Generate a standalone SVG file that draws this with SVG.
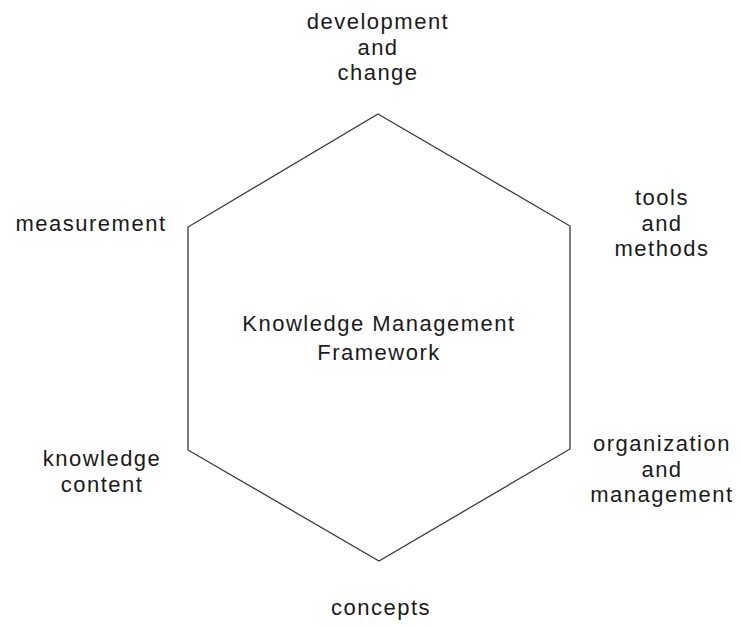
<svg xmlns="http://www.w3.org/2000/svg" width="741" height="627" viewBox="0 0 741 627">
<style>
text{font-family:"Liberation Sans",Arial,sans-serif;font-size:22px;letter-spacing:1.5px;fill:#1a1a1a;text-anchor:middle}
.hex{fill:none;stroke:#3a3a3a;stroke-width:1.3}
</style>
<rect width="741" height="627" fill="#ffffff"/>
<g id="framework">
<polygon class="hex" points="378,114 570,226 570,449 379,561 188,450 188,227"/>
<text x="379" y="331">Knowledge Management</text>
<text x="379" y="360">Framework</text>
</g>
<g id="development">
<text x="378" y="29">development</text>
<text x="378" y="55">and</text>
<text x="378" y="80">change</text>
</g>
<g id="tools">
<text x="662" y="205">tools</text>
<text x="662" y="231">and</text>
<text x="662" y="256">methods</text>
</g>
<g id="organization">
<text x="662" y="451">organization</text>
<text x="662" y="477">and</text>
<text x="662" y="502">management</text>
</g>
<g id="concepts">
<text x="381" y="615">concepts</text>
</g>
<g id="knowledge">
<text x="102" y="466">knowledge</text>
<text x="102" y="492">content</text>
</g>
<g id="measurement">
<text x="91" y="231">measurement</text>
</g>
<g id="connectors"></g>
</svg>
